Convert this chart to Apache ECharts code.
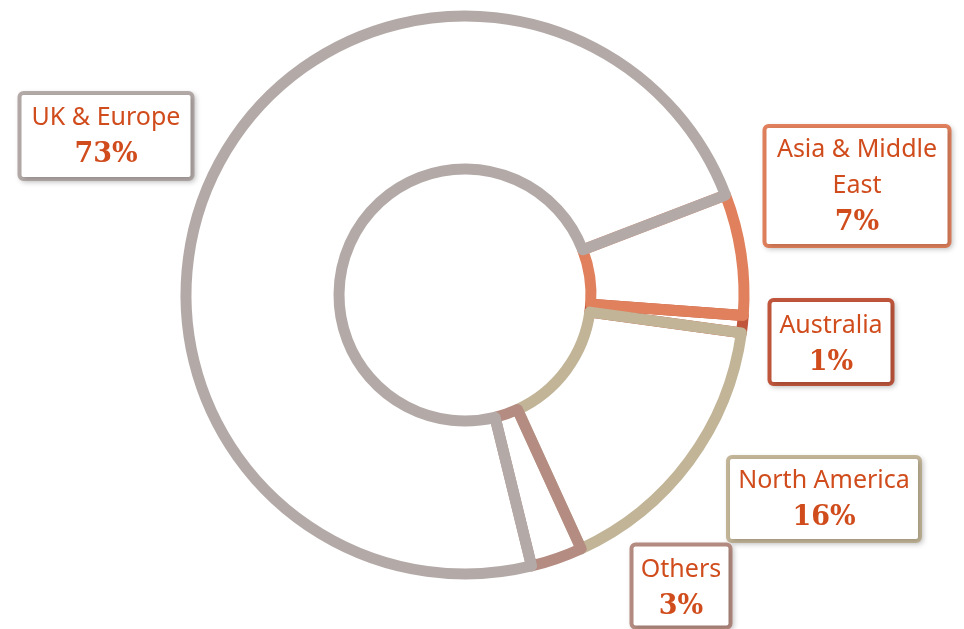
<!DOCTYPE html>
<html>
<head>
<meta charset="utf-8">
<script src="https://cdn.jsdelivr.net/npm/echarts@6/dist/echarts.min.js"></script>
<style>
html,body{margin:0;padding:0;background:#fff;}
#chart{width:964px;height:629px;}
</style>
</head>
<body>
<div id="chart"></div>
<script>
// ---- data ----
const categories = ['Asia & Middle East', 'Australia', 'North America', 'Others', 'UK & Europe'];
const labelNames = ['Asia & Middle\nEast', 'Australia', 'North America', 'Others', 'UK & Europe'];
const values = [7, 1, 16, 3, 73];

// ---- styling / layout (kept apart from data) ----
const colors = ['#e0805c', '#c0563c', '#c1b497', '#b58c81', '#b3aaa8'];
const textColor = '#d04c1c';
const boxCenters = [[857, 186], [831, 342], [824, 499], [681, 586], [106, 136]];
const boxWidths = [181, 119, 188, 95, 169];
const boxPads = [[4, 2], [6, 0], [4, 2], [5, 0], [5, 3]];

const chart = echarts.init(document.getElementById('chart'), null, {renderer: 'canvas'});

function makeData(borderFor) {
  return categories.map((c, i) => ({
    name: c,
    value: values[i],
    itemStyle: {
      color: 'rgba(0,0,0,0)',
      borderColor: borderFor(i) ? colors[i] : 'rgba(0,0,0,0)',
      borderWidth: 11
    }
  }));
}

const labeledData = makeData(i => i !== 1).map((d, i) => {
  d.label = {
    show: true,
    borderColor: colors[i],
    width: boxWidths[i],
    padding: [boxPads[i][0], 0, boxPads[i][1], 0]
  };
  return d;
});

const option = {
  animation: false,
  backgroundColor: '#fff',
  series: [
    {
      type: 'pie',
      z: 1,
      silent: true,
      center: [465, 295],
      radius: [126, 279],
      startAngle: 21,
      clockwise: true,
      avoidLabelOverlap: false,
      label: {show: false},
      labelLine: {show: false},
      emphasis: {disabled: true},
      data: makeData(i => i === 1)
    },
    {
      type: 'pie',
      z: 2,
      silent: true,
      center: [465, 295],
      radius: [126, 279],
      startAngle: 21,
      clockwise: true,
      avoidLabelOverlap: false,
      emphasis: {disabled: true},
      labelLine: {show: false},
      label: {
        show: true,
        position: 'outside',
        backgroundColor: '#fff',
        borderWidth: 4,
        borderRadius: 2,
        shadowColor: 'rgba(0,0,0,0.18)',
        shadowBlur: 5,
        shadowOffsetX: 2,
        shadowOffsetY: 2,
        align: 'center',
        formatter: function (p) {
          const lines = labelNames[p.dataIndex].split('\n').map(s => '{n|' + s + '}');
          return lines.join('\n') + '\n{p|' + Math.round(p.percent) + '%}';
        },
        rich: {
          n: {
            fontFamily: '"Noto Sans", sans-serif',
            fontSize: 25,
            lineHeight: 36,
            color: textColor,
            align: 'center'
          },
          p: {
            fontFamily: '"DejaVu Serif", serif',
            fontWeight: 'bold',
            fontSize: 27,
            lineHeight: 38,
            color: textColor,
            align: 'center'
          }
        }
      },
      labelLayout: function (params) {
        const c = boxCenters[params.dataIndex];
        return {x: c[0], y: c[1], align: 'center', verticalAlign: 'middle', hideOverlap: false};
      },
      data: labeledData
    }
  ]
};

chart.setOption(option);
</script>
</body>
</html>
